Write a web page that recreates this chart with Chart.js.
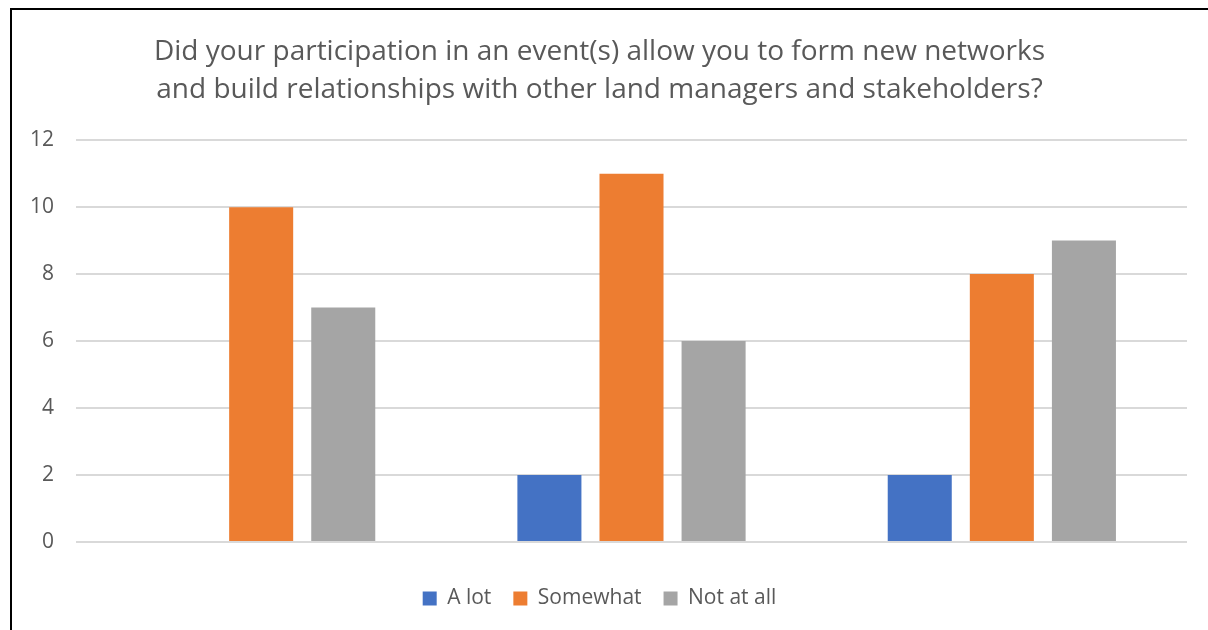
<!DOCTYPE html>
<html>
<head>
<meta charset="utf-8">
<script src="https://cdn.jsdelivr.net/npm/chart.js@4"></script>
<style>
  html, body { margin: 0; padding: 0; background: #fff; overflow: hidden; }
  .frame {
    position: absolute; left: 10px; top: 8px;
    border-left: 2px solid #000; border-top: 2px solid #000;
    width: 1196px; height: 620px;
  }
</style>
</head>
<body>
<div class="frame"><canvas id="chart" width="1196" height="620"></canvas></div>
<script>
const categories = ['', '', ''];
const seriesNames = ['A lot', 'Somewhat', 'Not at all'];
const aLot = [0, 2, 2];
const somewhat = [10, 11, 8];
const notAtAll = [7, 6, 9];
const titleLines = [
    'Did your participation in an event(s) allow you to form new networks',
    'and build relationships with other land managers and stakeholders?'
];
const colors = ['#4472C4', '#ED7D31', '#A5A5A5'];
const textColor = '#595959';
const fontFamily = '"Open Sans", "Liberation Sans", sans-serif';

const values = [aLot, somewhat, notAtAll];

new Chart(document.getElementById('chart'), {
    type: 'bar',
    data: {
        labels: categories,
        datasets: seriesNames.map((name, i) => ({
            label: name,
            data: values[i],
            backgroundColor: colors[i],
            barPercentage: 0.78,
            categoryPercentage: 0.665
        }))
    },
    options: {
        responsive: false,
        animation: false,
        layout: { padding: { left: 0, right: 21, top: 0, bottom: 11 } },
        plugins: {
            title: {
                display: true,
                text: titleLines,
                color: textColor,
                font: { family: fontFamily, size: 28, weight: 'normal', lineHeight: 1.36 },
                padding: { top: 23, bottom: 31 }
            },
            legend: {
                position: 'bottom',
                labels: {
                    color: textColor,
                    font: { family: fontFamily, size: 21 },
                    boxWidth: 14,
                    boxHeight: 14,
                    padding: 22
                }
            },
            tooltip: { enabled: false }
        },
        scales: {
            x: {
                grid: { display: false },
                border: { display: false },
                ticks: { display: false },
                afterFit: (scale) => { scale.height = 24; }
            },
            y: {
                min: 0,
                max: 12,
                ticks: {
                    stepSize: 2,
                    color: textColor,
                    font: { family: fontFamily, size: 21 },
                    padding: 22
                },
                grid: { color: '#D9D9D9', lineWidth: 2, drawTicks: false },
                border: { display: false },
                afterFit: (scale) => { scale.width = 64; }
            }
        }
    }
});
</script>
</body>
</html>
